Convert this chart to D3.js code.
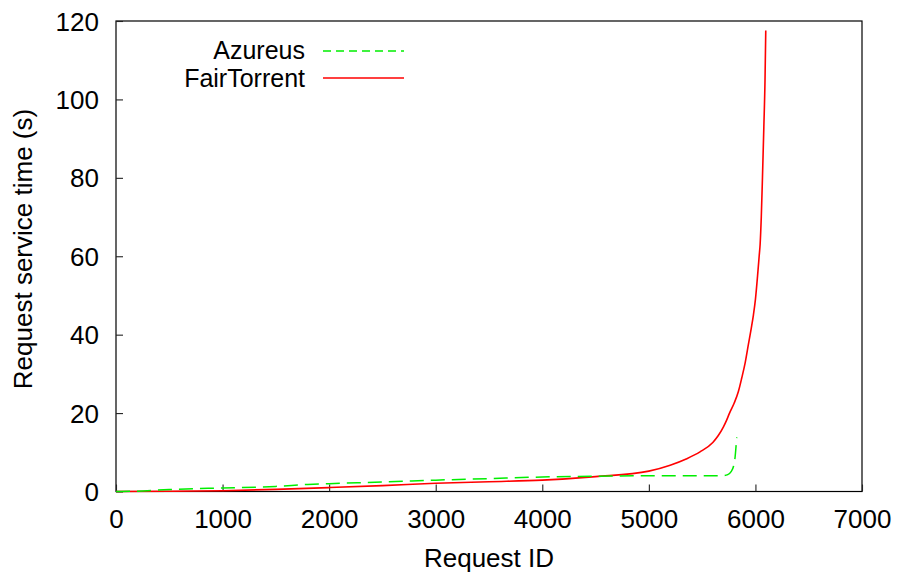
<!DOCTYPE html>
<html>
<head>
<meta charset="utf-8">
<script src="https://cdn.jsdelivr.net/npm/d3@7"></script>
<style>
  html, body { margin: 0; padding: 0; background: #fff; }
  svg { display: block; }
  text { font-family: "Liberation Sans", Arial, Helvetica, sans-serif; fill: #000; }
</style>
</head>
<body>
<svg id="chart" width="899" height="575"></svg>
<script>
// Request service time, sorted per client
const xTicks = [0, 1000, 2000, 3000, 4000, 5000, 6000, 7000];
const yTicks = [0, 20, 40, 60, 80, 100, 120];

const azureusId   = [0, 150, 500, 1000, 1500, 1800, 2000, 2500, 3000, 3500, 4000, 4500, 5000, 5500, 5700, 5740, 5770, 5795, 5810, 5818, 5825];
const azureusTime = [0, 0.05, 0.5, 0.9, 1.3, 1.8, 2.0, 2.4, 2.9, 3.3, 3.7, 3.9, 4.0, 4.0, 4.05, 4.3, 5.0, 6.5, 9.0, 11.5, 13.8];

const fairId   = [0, 500, 1000, 1500, 2000, 2500, 3000, 3500, 4000, 4500, 5000, 5200, 5350, 5480, 5600, 5650, 5700, 5730, 5757, 5800, 5840, 5872, 5905, 5934, 5960, 5981, 6000, 6020, 6035, 6044, 6055, 6066, 6079, 6090, 6097];
const fairTime = [0, 0.05, 0.2, 0.55, 1.0, 1.5, 2.1, 2.5, 2.9, 3.8, 5.2, 6.7, 8.3, 10.1, 12.5, 14.2, 16.5, 18.2, 20.0, 22.5, 25.5, 29.0, 33.0, 37.5, 41.5, 45.0, 49, 55, 60, 63, 70, 80, 93, 105, 117.6];

const seriesNames = ["Azureus", "FairTorrent"];

const svg = d3.select("#chart");
const plotLeft = 116, plotRight = 862, plotTop = 21, plotBottom = 491.5;

const x = d3.scaleLinear().domain([0, 7000]).range([plotLeft, plotRight]);
const y = d3.scaleLinear().domain([0, 120]).range([plotBottom, plotTop]);

// frame
svg.append("rect")
  .attr("x", plotLeft).attr("y", plotTop)
  .attr("width", plotRight - plotLeft).attr("height", plotBottom - plotTop)
  .attr("fill", "none").attr("stroke", "#000").attr("stroke-width", 1.2);

// ticks pointing inward
const xAxis = d3.axisBottom(x).tickValues(xTicks).tickFormat(d3.format("d"))
  .tickSizeInner(-7).tickSizeOuter(0).tickPadding(18);
const gx = svg.append("g").attr("transform", `translate(0,${plotBottom})`).call(xAxis);
const yAxis = d3.axisLeft(y).tickValues(yTicks).tickFormat(d3.format("d"))
  .tickSizeInner(-7).tickSizeOuter(0).tickPadding(17);
const gy = svg.append("g").attr("transform", `translate(${plotLeft},0)`).call(yAxis);

[gx, gy].forEach(g => {
  g.select(".domain").remove();
  g.selectAll(".tick line").attr("stroke", "#222").attr("stroke-width", 1.1);
  g.selectAll(".tick text").style("font-size", "26px").attr("fill", "#000");
});
gx.selectAll(".tick text").attr("dy", "0.71em");
gy.selectAll(".tick text").attr("dy", "0.35em");

// axis titles
svg.append("text")
  .attr("x", (plotLeft + plotRight) / 2).attr("y", 566.5)
  .attr("text-anchor", "middle").style("font-size", "26px")
  .text("Request ID");
svg.append("text")
  .attr("transform", "translate(32,249) rotate(-90)")
  .attr("text-anchor", "middle").style("font-size", "26px")
  .text("Request service time (s)");

const line = d3.line().x(d => x(d[0])).y(d => y(d[1])).curve(d3.curveMonotoneX);

const azData = azureusId.map((v, i) => [v, azureusTime[i]]);
const ftData = fairId.map((v, i) => [v, fairTime[i]]);

svg.append("path").datum(ftData)
  .attr("d", line)
  .attr("fill", "none").attr("stroke", "#ff0000").attr("stroke-width", 1.6);

svg.append("path").datum(azData)
  .attr("d", line)
  .attr("fill", "none").attr("stroke", "#00ee00").attr("stroke-width", 1.5)
  .attr("stroke-dasharray", "14,7");

// legend
const legend = [
  { name: seriesNames[0], color: "#00ee00", dash: "8,5", yText: 58.5, yLine: 51 },
  { name: seriesNames[1], color: "#ff0000", dash: null, yText: 87, yLine: 78 }
];
legend.forEach(d => {
  svg.append("text")
    .attr("x", 305).attr("y", d.yText)
    .attr("text-anchor", "end").style("font-size", "25px")
    .text(d.name);
  svg.append("line")
    .attr("x1", 323).attr("x2", 404)
    .attr("y1", d.yLine).attr("y2", d.yLine)
    .attr("stroke", d.color).attr("stroke-width", 1.6)
    .attr("stroke-dasharray", d.dash);
});
</script>
</body>
</html>
